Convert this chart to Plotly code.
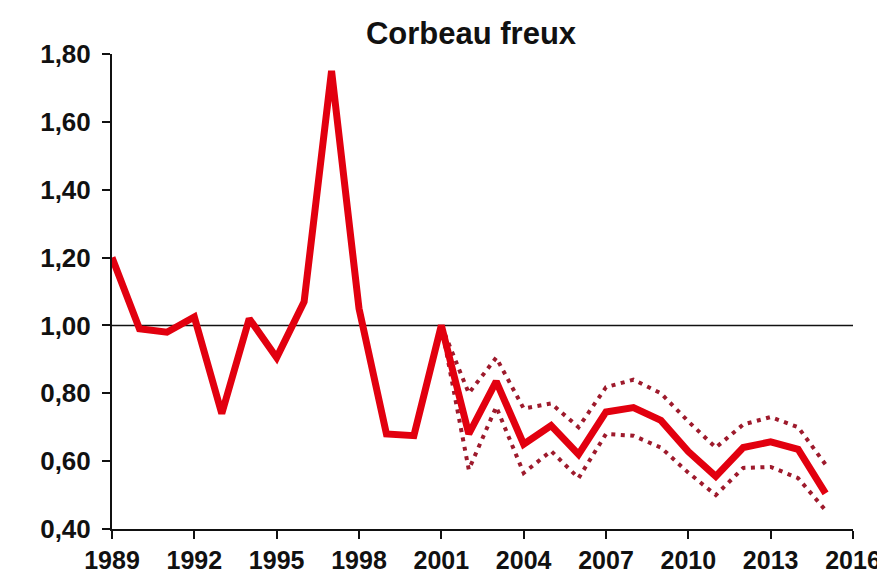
import plotly.graph_objects as go

years = list(range(1989, 2016))
index_values = [1.20, 0.99, 0.98, 1.025, 0.74, 1.02, 0.905, 1.07, 1.75, 1.05,
                0.68, 0.675, 1.00, 0.68, 0.835, 0.65, 0.705, 0.62, 0.745, 0.758,
                0.72, 0.628, 0.555, 0.64, 0.657, 0.635, 0.505]

ci_years = list(range(2001, 2016))
upper_values = [1.00, 0.80, 0.905, 0.755, 0.77, 0.70, 0.818, 0.84, 0.80, 0.717,
                0.64, 0.708, 0.73, 0.70, 0.59]
lower_values = [1.00, 0.575, 0.76, 0.565, 0.63, 0.55, 0.68, 0.675, 0.64, 0.566,
                0.50, 0.58, 0.583, 0.55, 0.455]

y_ticks = [0.40, 0.60, 0.80, 1.00, 1.20, 1.40, 1.60, 1.80]
y_labels = ["0,40", "0,60", "0,80", "1,00", "1,20", "1,40", "1,60", "1,80"]
x_ticks = [1989, 1992, 1995, 1998, 2001, 2004, 2007, 2010, 2013, 2016]
x_labels = [str(v) for v in x_ticks]

title_text = "Corbeau freux"

FONT = "Liberation Sans, Arial, Helvetica, sans-serif"
RED = "#e2000f"
DOT = "#9e1a2c"

fig = go.Figure()

fig.add_trace(go.Scatter(x=ci_years, y=upper_values, mode="lines",
                         line=dict(color=DOT, width=4, dash="4px,5.5px"),
                         hoverinfo="skip", showlegend=False))
fig.add_trace(go.Scatter(x=ci_years, y=lower_values, mode="lines",
                         line=dict(color=DOT, width=4, dash="4px,5.5px"),
                         hoverinfo="skip", showlegend=False))
fig.add_trace(go.Scatter(x=years, y=index_values, mode="lines",
                         line=dict(color=RED, width=7),
                         showlegend=False, cliponaxis=False))

fig.add_shape(type="line", xref="x", yref="y", x0=1989, x1=2016, y0=1.0, y1=1.0,
              line=dict(color="#111111", width=1.6), layer="below")

fig.update_layout(
    width=885, height=574,
    margin=dict(l=104, r=40, t=46, b=53, autoexpand=False),
    paper_bgcolor="white", plot_bgcolor="white",
    font=dict(family=FONT, color="#111111"),
    title=dict(text="<b>" + title_text + "</b>", x=463 / 885, xref="container",
               xanchor="center", y=1 - 25 / 574, yref="container", yanchor="middle",
               font=dict(size=31, family=FONT, color="#111111")),
    showlegend=False,
)

fig.update_xaxes(range=[1989, 2016], tickvals=x_ticks, ticktext=x_labels,
                 automargin=False,
                 showgrid=False, zeroline=False, showline=True, linecolor="#111111",
                 linewidth=2, ticks="outside", ticklen=8, tickwidth=2,
                 tickcolor="#111111", ticklabelstandoff=0,
                 tickfont=dict(size=25, family=FONT, color="#111111", weight="bold"))
fig.update_yaxes(range=[0.40, 1.80], tickvals=y_ticks, ticktext=y_labels,
                 automargin=False,
                 showgrid=False, zeroline=False, showline=True, linecolor="#111111",
                 linewidth=2, ticks="outside", ticklen=8, tickwidth=2,
                 tickcolor="#111111", ticklabelstandoff=6,
                 tickfont=dict(size=26, family=FONT, color="#111111", weight="bold"))

fig.write_html("out.html")
